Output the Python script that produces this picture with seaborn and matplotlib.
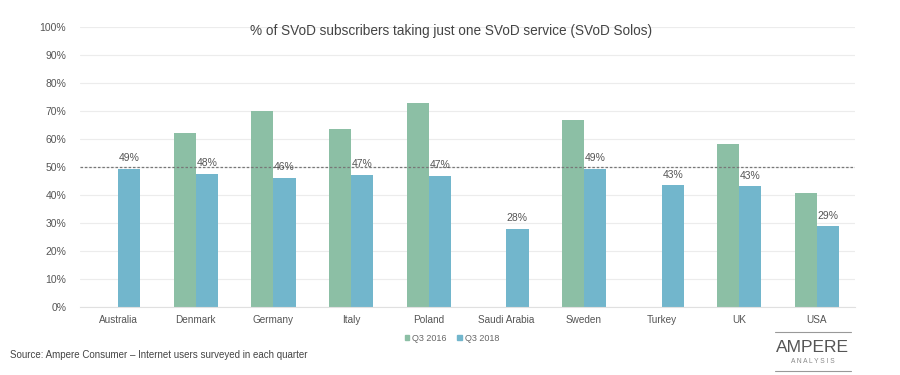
import matplotlib
matplotlib.use("Agg")
import matplotlib.pyplot as plt
from matplotlib.lines import Line2D
import numpy as np
import pandas as pd
import seaborn as sns

countries = ["Australia", "Denmark", "Germany", "Italy", "Poland",
             "Saudi Arabia", "Sweden", "Turkey", "UK", "USA"]
q3_2016 = [np.nan, 62.2, 70.0, 63.7, 72.8, np.nan, 66.8, np.nan, 58.2, 40.8]
q3_2018 = [49.4, 47.6, 46.2, 47.2, 46.8, 27.9, 49.3, 43.4, 43.1, 28.7]
labels_2018 = ["49%", "48%", "46%", "47%", "47%", "28%", "49%", "43%", "43%", "29%"]
series = ["Q3 2016", "Q3 2018"]
colors = ["#8cbfa5", "#72b6cc"]

df = pd.DataFrame({
    "country": countries * 2,
    "period": [series[0]] * len(countries) + [series[1]] * len(countries),
    "value": q3_2016 + q3_2018,
})

sns.set_style("white")
plt.rcParams['font.family'] = ['Liberation Sans', 'DejaVu Sans']

fig = plt.figure(figsize=(9, 3.75), dpi=100)
ax = fig.add_axes([0.089, 0.182, 0.861, 0.746])

sns.barplot(data=df, x="country", y="value", hue="period", order=countries,
            hue_order=series, palette=colors, width=0.57, gap=0,
            saturation=1, errorbar=None, linewidth=0, ax=ax, legend=False)

ax.set_ylim(0, 100)
ax.set_xlim(-0.49, 9.49)
ax.set_yticks(np.arange(0, 101, 10))
ax.set_yticklabels([f"{v}%" for v in range(0, 101, 10)], fontsize=7.5, color="#555555")
ax.tick_params(axis="x", labelsize=7.2, colors="#555555", length=0, pad=6)
ax.tick_params(axis="y", length=0, pad=10)
ax.set_xlabel("")
ax.set_ylabel("")
ax.grid(axis="y", color="#ececec", linewidth=0.8)
ax.set_axisbelow(True)
for s in ["top", "right", "left"]:
    ax.spines[s].set_visible(False)
ax.spines["bottom"].set_color("#e0e0e0")

ax.axhline(50, color="#777777", linestyle=(0, (2, 1.5)), linewidth=0.9, zorder=3)

ax.bar_label(ax.containers[1], labels=labels_2018, padding=4, fontsize=7.5, color="#555555")

ax.set_title("% of SVoD subscribers taking just one SVoD service (SVoD Solos)",
             fontsize=9.8, color="#444444", pad=-6, x=0.479, y=1.0)

handles = [plt.Rectangle((0, 0), 1, 1, color=c) for c in colors]
fig.legend(handles, series, loc="center", bbox_to_anchor=(0.502, 0.098), ncol=2,
           frameon=False, fontsize=6.5, handlelength=0.5, handleheight=0.5,
           handletextpad=0.3, columnspacing=1.2, labelcolor="#666666")

fig.text(0.011, 0.045, "Source: Ampere Consumer \u2013 Internet users surveyed in each quarter",
         fontsize=7, color="#444444")

fig.add_artist(Line2D([0.861, 0.946], [0.115, 0.115], color="#999999", lw=0.8))
fig.add_artist(Line2D([0.861, 0.946], [0.011, 0.011], color="#999999", lw=0.8))
fig.text(0.903, 0.073, "AMPERE", fontsize=12.5, color="#555555", ha="center", va="center")
fig.text(0.903, 0.035, "A N A L Y S I S", fontsize=4.8, color="#888888", ha="center", va="center")

fig.savefig("out.png", dpi=100)
